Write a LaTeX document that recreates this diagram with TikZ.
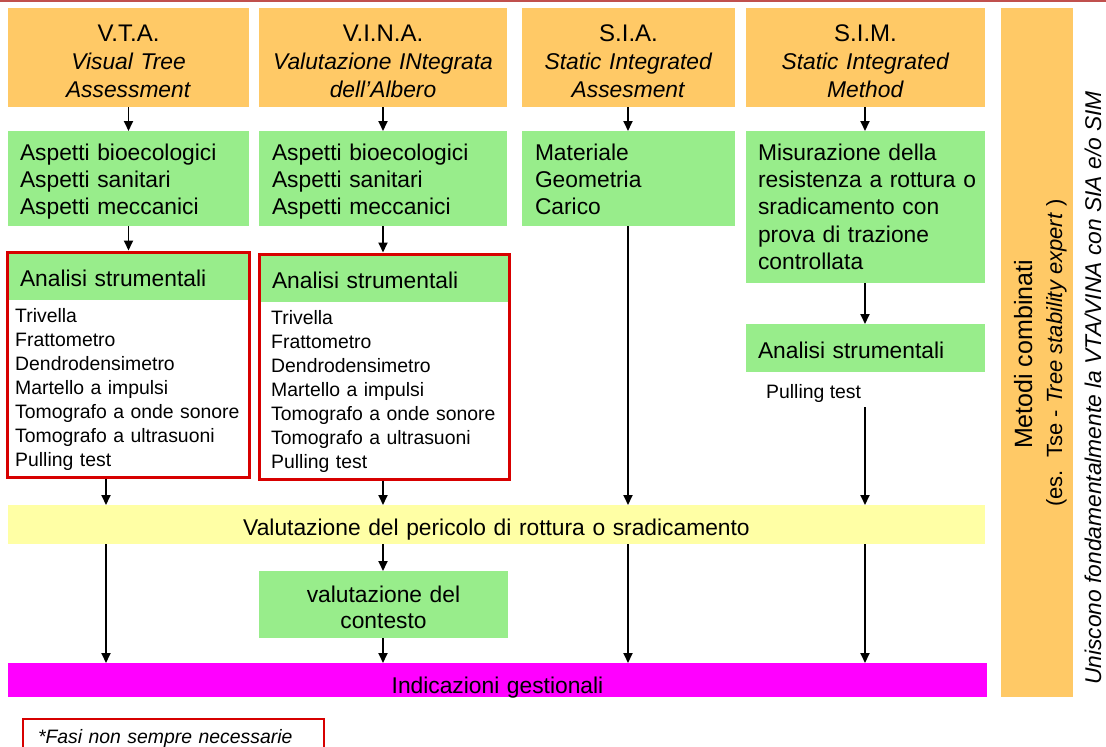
\documentclass[tikz,border=0pt]{standalone}
\usepackage{fontspec}
\setmainfont{Liberation Sans}
\usetikzlibrary{arrows.meta}
\definecolor{hdrorange}{RGB}{255,201,102}
\definecolor{boxgreen}{RGB}{152,237,139}
\definecolor{baryellow}{RGB}{255,255,165}
\definecolor{barmagenta}{RGB}{255,0,255}
\definecolor{framered}{RGB}{215,0,0}
\definecolor{topline}{RGB}{192,80,77}
\newcommand\fbody{\fontsize{22.8}{27.4}\selectfont}
\newcommand\fhdr{\fontsize{22.8}{28}\selectfont}
\newcommand\ftitle{\fontsize{24}{28}\selectfont}
\newcommand\fsmall{\fontsize{19.4}{24}\selectfont}
\tikzset{
  bx/.style={rectangle, inner sep=0pt, outer sep=0pt, anchor=north west, font=\fbody},
  hdr/.style={bx, fill=hdrorange, align=center, font=\fhdr},
  grn/.style={bx, fill=boxgreen, align=left, inner xsep=12pt},
  redframe/.style={rectangle, draw=framered, line width=3pt, outer sep=1.5pt, inner sep=0pt},
  listtxt/.style={anchor=base west, inner sep=0pt, text width=240pt, align=left, font=\fsmall},
  arr/.style={draw=black, line width=1.8pt, -{Triangle[length=10pt,width=9pt]}},
}
\begin{document}
\begin{tikzpicture}[x=1pt,y=-1pt]
\useasboundingbox (0,0) rectangle (1106,747);
\draw[topline, line width=2.5pt] (0,1) -- (1106,1);
% headers
\node[hdr, text width=241pt, text height=33pt, text depth=66pt] (hVTA) at (8,8)
  {{\ftitle V.T.A.}\\\textit{Visual Tree}\\\textit{Assessment}};
\node[hdr, text width=248pt, text height=33pt, text depth=66pt] (hVINA) at (259,8)
  {{\ftitle V.I.N.A.}\\\textit{Valutazione INtegrata}\\\textit{dell'Albero}};
\node[hdr, text width=213pt, text height=33pt, text depth=66pt] (hSIA) at (522,8)
  {{\ftitle S.I.A.}\\\textit{Static Integrated}\\\textit{Assesment}};
\node[hdr, text width=239pt, text height=33pt, text depth=66pt] (hSIM) at (746,8)
  {{\ftitle S.I.M.}\\\textit{Static Integrated}\\\textit{Method}};
% green boxes
\node[grn, text width=217pt, text height=29pt, text depth=66pt] (gVTA) at (8,131)
  {Aspetti bioecologici\\Aspetti sanitari\\Aspetti meccanici};
\node[grn, inner xsep=13pt, text width=222pt, text height=29pt, text depth=66pt] (gVINA) at (259,131)
  {Aspetti bioecologici\\Aspetti sanitari\\Aspetti meccanici};
\node[grn, inner xsep=13pt, text width=187pt, text height=29pt, text depth=66pt] (gSIA) at (522,131)
  {Materiale\\Geometria\\Carico};
\node[grn, text width=215pt, text height=29pt, text depth=123pt] (gSIM) at (746,131)
  {Misurazione della\\\mbox{resistenza a rottura o}\\sradicamento con\\prova di trazione\\controllata};
% analisi strumentali
\node[grn, text width=216pt, text height=33pt, text depth=14pt] (anVTA) at (8,253) {Analisi strumentali};
\node[redframe, minimum width=242pt, minimum height=225pt] (frVTA) at (128,364.5) {};
\node[listtxt] (lVTA) at (15,322) {Trivella\\Frattometro\\Dendrodensimetro\\Martello a impulsi\\Tomografo a onde sonore\\Tomografo a ultrasuoni\\Pulling test};
\node[grn, text width=224pt, text height=33pt, text depth=14pt] (anVINA) at (260,255) {Analisi strumentali};
\node[redframe, minimum width=250pt, minimum height=225pt] (frVINA) at (384,366.5) {};
\node[listtxt] (lVINA) at (271,324) {Trivella\\Frattometro\\Dendrodensimetro\\Martello a impulsi\\Tomografo a onde sonore\\Tomografo a ultrasuoni\\Pulling test};
\node[grn, text width=215pt, text height=34pt, text depth=14pt] (anSIM) at (746,324) {Analisi strumentali};
\node[anchor=base west, inner sep=0pt, font=\fsmall] (ptSIM) at (766,398) {Pulling test};
% bars
\node[bx, fill=baryellow, align=center, text width=977pt, text height=30pt, text depth=9pt] (ybar) at (8,505)
  {Valutazione del pericolo di rottura o sradicamento};
\node[bx, fill=boxgreen, align=center, font=\fontsize{22.8}{26}\selectfont, text width=249pt, text height=31pt, text depth=36pt] (vc) at (259,571)
  {valutazione del\\contesto};
\node[bx, fill=barmagenta, align=center, text width=979pt, text height=30pt, text depth=4pt] (mbar) at (8,663)
  {Indicazioni gestionali};
% combined methods
\node[bx, fill=hdrorange, minimum width=72pt, minimum height=689pt] (mc) at (1001,8) {};
\node[rotate=90, anchor=base, inner sep=0pt, font=\fontsize{25}{28}\selectfont] (mcT) at (1032,354.5) {Metodi combinati};
\node[rotate=90, anchor=base, inner sep=0pt, font=\fontsize{22}{26}\selectfont] (mcS) at (1062,353) {(es.\ \ Tse - \textit{Tree stability expert} )};
\node[rotate=90, anchor=base, inner sep=0pt, font=\fontsize{22.8}{26}\selectfont\itshape] (uni) at (1101,388) {Uniscono fondamentalmente la VTA/VINA con SIA e/o SIM};
% legend
\node[bx, draw=framered, line width=2pt, inner xsep=15pt, align=left, font=\fsmall\itshape, text width=271pt, text height=24pt, text depth=20pt] (lg) at (23,719)
  {*Fasi non sempre necessarie};
% coordinates for arrow columns
\coordinate (cA) at (106,0);
\coordinate (cB) at (383,0);
\coordinate (cC) at (628,0);
\coordinate (cD) at (865,0);
% arrows VTA
\draw[arr] (hVTA) -- (gVTA);
\draw[arr] (gVTA.south) -- (gVTA.south |- frVTA.north);
\draw[arr] (frVTA.south -| cA) -- (ybar.north -| cA);
\draw[arr] (ybar.south -| cA) -- (mbar.north -| cA);
% arrows VINA
\draw[arr] (hVINA.south -| cB) -- (gVINA.north -| cB);
\draw[arr] (gVINA.south -| cB) -- (frVINA.north -| cB);
\draw[arr] (frVINA.south -| cB) -- (ybar.north -| cB);
\draw[arr] (ybar.south -| cB) -- (vc.north -| cB);
\draw[arr] (vc.south -| cB) -- (mbar.north -| cB);
% arrows SIA
\draw[arr] (hSIA.south -| cC) -- (gSIA.north -| cC);
\draw[arr] (gSIA.south -| cC) -- (ybar.north -| cC);
\draw[arr] (ybar.south -| cC) -- (mbar.north -| cC);
% arrows SIM
\draw[arr] (hSIM.south -| cD) -- (gSIM.north -| cD);
\draw[arr] (gSIM.south -| cD) -- (anSIM.north -| cD);
\draw[arr, shorten <=5pt] (ptSIM.south -| cD) -- (ybar.north -| cD);
\draw[arr] (ybar.south -| cD) -- (mbar.north -| cD);
\end{tikzpicture}
\end{document}
